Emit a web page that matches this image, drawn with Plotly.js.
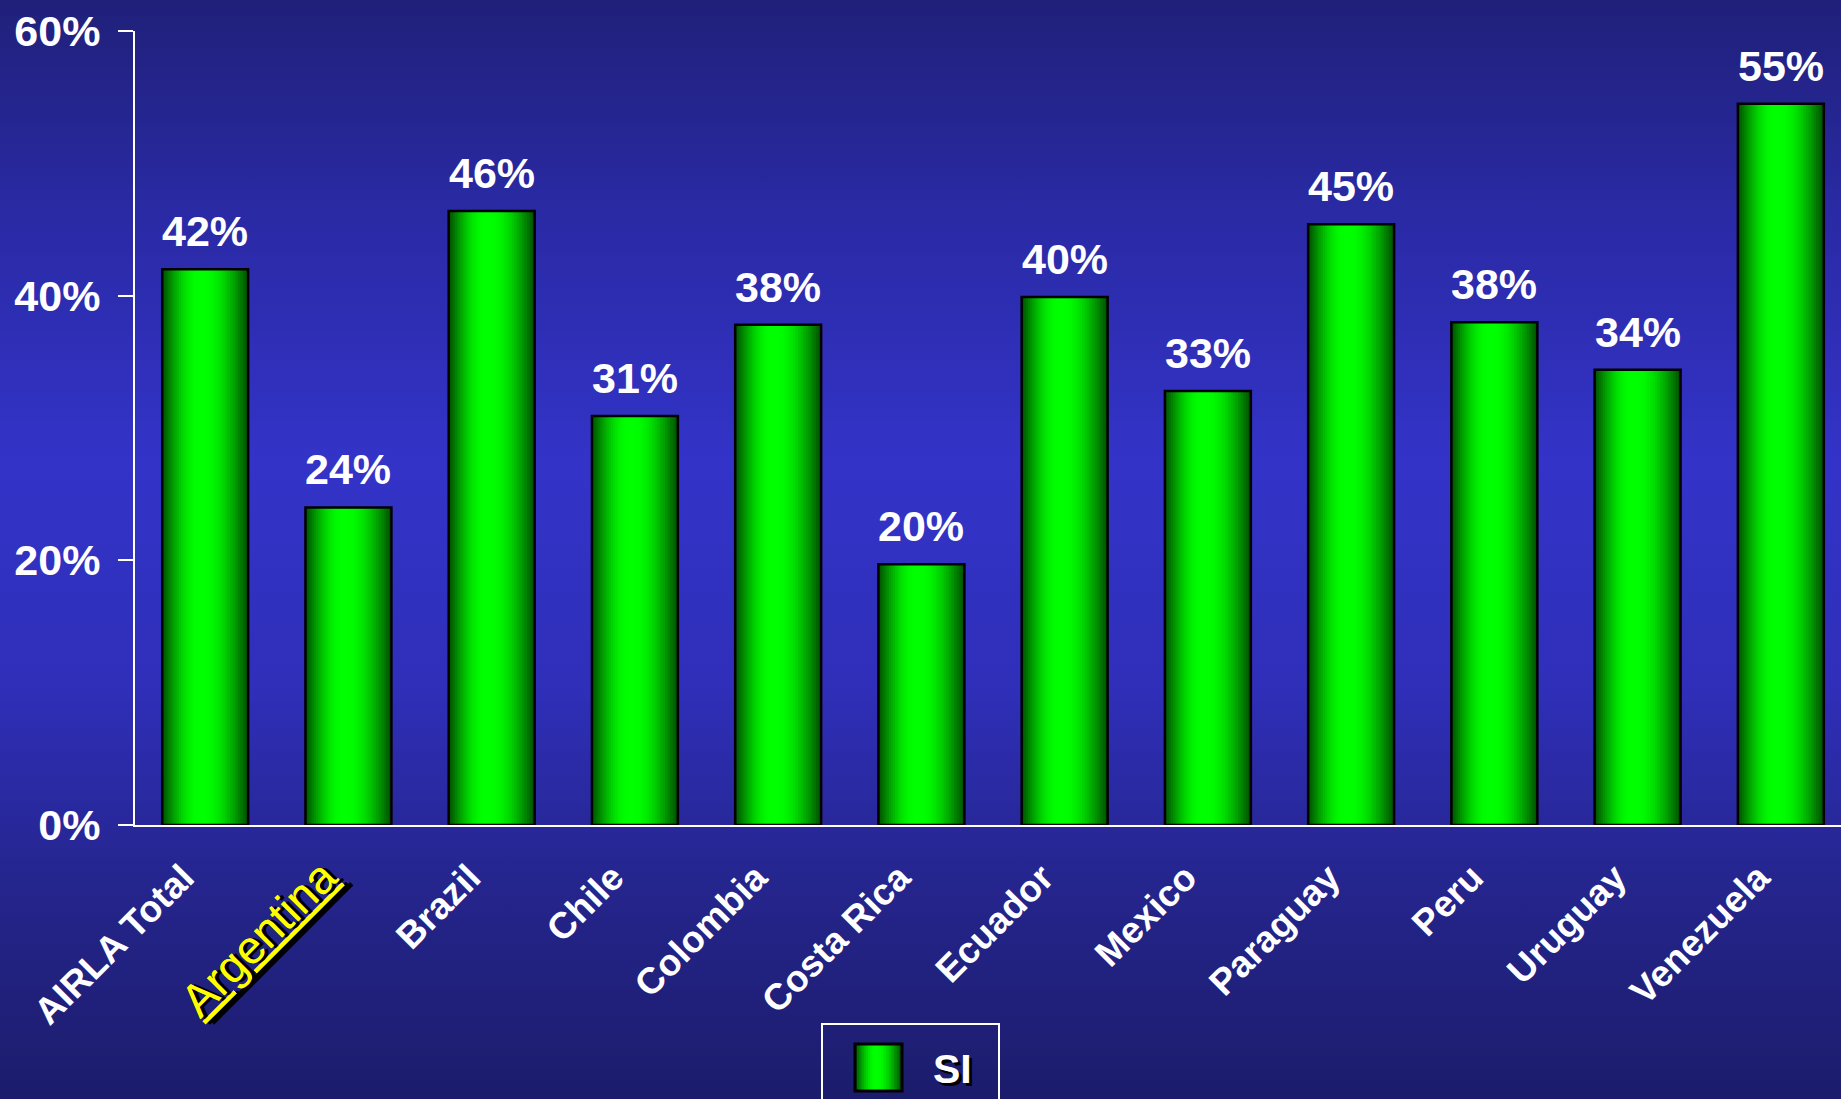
<!DOCTYPE html>
<html>
<head>
<meta charset="utf-8">
<script src="https://cdn.plot.ly/plotly-3.0.1.min.js"></script>
<style>
  html, body { margin: 0; padding: 0; }
  body {
    width: 1841px; height: 1099px; overflow: hidden;
    background: linear-gradient(to bottom, #20207a 0%, #2a2aa6 20%, #3333c8 42%, #2f2fba 62%, #24248a 82%, #1c1c6c 100%);
  }
  #chart { width: 1841px; height: 1099px; }
</style>
</head>
<body>
<div id="chart"></div>
<script>
// ---- data ----
const categories = ["AIRLA Total", "Argentina", "Brazil", "Chile", "Colombia", "Costa Rica",
                    "Ecuador", "Mexico", "Paraguay", "Peru", "Uruguay", "Venezuela"];
const values = [42.0, 24.0, 46.4, 30.9, 37.8, 19.7, 39.9, 32.8, 45.4, 38.0, 34.4, 54.5];
const valueLabels = ["42%", "24%", "46%", "31%", "38%", "20%", "40%", "33%", "45%", "38%", "34%", "55%"];
const seriesName = "SI";
const yTickVals = [0, 20, 40, 60];
const yTickText = ["0%", "20%", "40%", "60%"];
const highlighted = "Argentina";

// ---- styling ----
const W = 0.6;            // bar width in category units
const PEAK = 0.45;        // brightness peak position across the bar
const N = 18;             // gradient bands
const traces = [];
const L = -W / 2, R = W / 2, P = L + PEAK * W;

for (let k = 0; k < N; k++) {
  const t = k / (N - 1);
  const left = L + (P - L) * t * 0.92;
  const right = R - (R - P) * t * 0.92;
  const g = Math.round(85 + 170 * Math.sin(t * Math.PI / 2));
  traces.push({
    type: "bar", x: categories, y: values,
    width: right - left, offset: left,
    marker: { color: `rgb(0,${g},0)`, line: { width: 0 } },
    hoverinfo: "skip", showlegend: false
  });
}
// outline on top
traces.push({
  type: "bar", x: categories, y: values, name: seriesName,
  width: W, offset: L,
  marker: { color: "rgba(0,0,0,0)", line: { color: "#000000", width: 2.5 } },
  showlegend: false
});

const tickText = categories.map(c => c === highlighted
  ? `<span style="color:#ffff00;font-weight:normal;font-size:46px;text-decoration:underline;text-shadow:3px 3px 0px #000000">${c}</span>`
  : c);

const annotations = categories.map((c, i) => ({
  x: c, y: values[i], xref: "x", yref: "y",
  text: valueLabels[i], showarrow: false,
  yanchor: "bottom", yshift: 12,
  font: { family: "Liberation Sans, Arial, sans-serif", size: 43, color: "#ffffff", weight: "bold" }
}));

// legend (drawn as layout items)
const plotL = 135, plotR = 1841, plotT = 31, plotB = 825;
const px2x = px => (px - plotL) / (plotR - plotL);
const py2y = py => (plotB - py) / (plotB - plotT);
const shapes = [
  { type: "rect", xref: "paper", yref: "paper",
    x0: px2x(822), x1: px2x(999), y0: py2y(1110), y1: py2y(1024),
    line: { color: "#ffffff", width: 2 }, fillcolor: "rgba(0,0,0,0)", layer: "above" }
];
const sw0 = 855, sw1 = 902, swT = 1044, swB = 1091;
const swP = sw0 + PEAK * (sw1 - sw0);
for (let k = 0; k < 10; k++) {
  const t = k / 9;
  const g = Math.round(85 + 170 * Math.sin(t * Math.PI / 2));
  shapes.push({ type: "rect", xref: "paper", yref: "paper",
    x0: px2x(sw0 + (swP - sw0) * t * 0.92), x1: px2x(sw1 - (sw1 - swP) * t * 0.92),
    y0: py2y(swB), y1: py2y(swT), line: { width: 0 }, fillcolor: `rgb(0,${g},0)`, layer: "above" });
}
shapes.push({ type: "rect", xref: "paper", yref: "paper",
  x0: px2x(sw0), x1: px2x(sw1), y0: py2y(swB), y1: py2y(swT),
  line: { color: "#000000", width: 3 }, fillcolor: "rgba(0,0,0,0)", layer: "above" });
annotations.push({
  xref: "paper", yref: "paper", x: px2x(952), y: py2y(1069),
  text: `<span style="text-shadow:3px 3px 0px #000000">${seriesName}</span>`,
  showarrow: false, xanchor: "center", yanchor: "middle",
  font: { family: "Liberation Sans, Arial, sans-serif", size: 41, color: "#ffffff", weight: "bold" }
});

const layout = {
  width: 1841, height: 1099,
  margin: { l: plotL, r: 0, t: plotT, b: 1099 - plotB, pad: 0 },
  paper_bgcolor: "rgba(0,0,0,0)", plot_bgcolor: "rgba(0,0,0,0)",
  barmode: "overlay",
  showlegend: false,
  font: { family: "Liberation Sans, Arial, sans-serif", color: "#ffffff" },
  xaxis: {
    type: "category", range: [-0.49, 11.42],
    tickmode: "array", tickvals: categories, ticktext: tickText,
    tickangle: -45, ticks: "", showgrid: false, zeroline: false,
    showline: true, linecolor: "#ffffff", linewidth: 2,
    tickfont: { family: "Liberation Sans, Arial, sans-serif", size: 37, color: "#ffffff", weight: "bold" },
    ticklabelstandoff: 14, ticklabelshift: -22
  },
  yaxis: {
    range: [0, 60], tickmode: "array", tickvals: yTickVals, ticktext: yTickText,
    ticks: "outside", ticklen: 15, tickwidth: 2, tickcolor: "#ffffff",
    showline: true, linecolor: "#ffffff", linewidth: 2,
    showgrid: false, zeroline: false,
    tickfont: { family: "Liberation Sans, Arial, sans-serif", size: 43, color: "#ffffff", weight: "bold" },
    ticklabelstandoff: 9
  },
  annotations: annotations,
  shapes: shapes
};

Plotly.newPlot("chart", traces, layout, { displayModeBar: false, staticPlot: true });
</script>
</body>
</html>
